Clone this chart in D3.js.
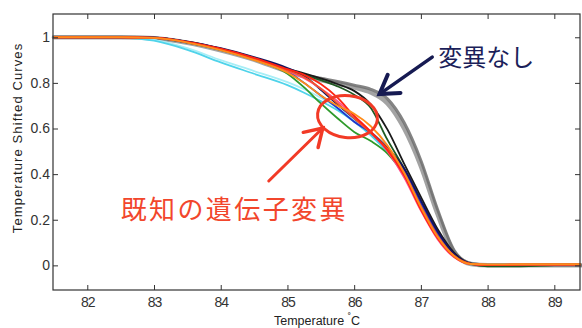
<!DOCTYPE html>
<html>
<head>
<meta charset="utf-8">
<script src="https://cdn.jsdelivr.net/npm/d3@7"></script>
<style>
  html, body { margin: 0; padding: 0; background: #fff; }
  svg { display: block; }
</style>
</head>
<body>
<svg id="chart" width="582" height="328"></svg>
<script>
// Melting temperatures (°C) at which every curve is sampled
const temps = [81.5, 82, 82.5, 83, 83.5, 84, 84.5, 85, 85.25, 85.5, 85.75, 86, 86.25, 86.5, 86.75, 87, 87.25, 87.5, 87.75, 88, 88.5, 89, 89.4];

// Wild-type (no variant) curves
const wildA = [1, 1, 1, 0.997, 0.978, 0.946, 0.905, 0.855, 0.835, 0.82, 0.806, 0.79, 0.772, 0.73, 0.625, 0.46, 0.245, 0.065, 0.008, 0.001, 0, 0, 0];
const wildB = [1, 1, 1, 0.996, 0.976, 0.943, 0.902, 0.85, 0.83, 0.812, 0.797, 0.78, 0.758, 0.71, 0.6, 0.435, 0.225, 0.055, 0.006, 0, 0, 0, 0];

// Known-variant curves
const cyanA  = [1, 1, 0.999, 0.985, 0.945, 0.89, 0.84, 0.79, 0.757, 0.72, 0.68, 0.63, 0.57, 0.495, 0.4, 0.265, 0.135, 0.045, 0.006, 0.002, 0.003, 0.003, 0.003];
const cyanB  = [1, 1, 0.999, 0.988, 0.952, 0.9, 0.852, 0.803, 0.772, 0.735, 0.69, 0.635, 0.572, 0.497, 0.402, 0.268, 0.137, 0.046, 0.006, 0.002, 0.003, 0.003, 0.003];
const green  = [1, 1, 1, 0.997, 0.977, 0.945, 0.902, 0.84, 0.78, 0.71, 0.645, 0.585, 0.545, 0.49, 0.395, 0.26, 0.13, 0.044, 0.006, 0, -0.002, 0.001, 0.002];
const dkGreen = [1, 1, 1, 0.997, 0.978, 0.947, 0.906, 0.857, 0.835, 0.812, 0.785, 0.748, 0.69, 0.55, 0.425, 0.285, 0.15, 0.05, 0.006, -0.004, -0.004, 0.001, 0.002];
const black  = [1, 1, 1, 0.998, 0.98, 0.95, 0.91, 0.862, 0.842, 0.82, 0.795, 0.765, 0.705, 0.595, 0.445, 0.3, 0.16, 0.055, 0.008, 0.001, 0.002, 0.003, 0.003];
const blue   = [1, 1, 1, 0.997, 0.978, 0.947, 0.905, 0.85, 0.8, 0.745, 0.69, 0.63, 0.58, 0.505, 0.415, 0.275, 0.14, 0.046, 0.007, 0.001, 0.002, 0.002, 0.002];
const navy   = [1, 1, 1, 0.998, 0.981, 0.952, 0.913, 0.865, 0.83, 0.77, 0.705, 0.645, 0.585, 0.515, 0.425, 0.285, 0.15, 0.05, 0.008, 0.001, 0.002, 0.002, 0.002];
const pink   = [1, 1, 1, 0.997, 0.978, 0.946, 0.904, 0.852, 0.82, 0.775, 0.72, 0.655, 0.585, 0.5, 0.385, 0.24, 0.115, 0.035, 0.005, 0.002, 0.003, 0.003, 0.003];
const tomato = [1, 1, 1, 0.997, 0.978, 0.947, 0.905, 0.855, 0.825, 0.775, 0.71, 0.645, 0.58, 0.51, 0.405, 0.26, 0.13, 0.042, 0.007, 0.002, 0.003, 0.003, 0.003];
const red    = [1, 1, 1, 0.998, 0.98, 0.95, 0.91, 0.86, 0.835, 0.795, 0.735, 0.655, 0.585, 0.505, 0.395, 0.245, 0.12, 0.038, 0.006, 0.002, 0.003, 0.003, 0.003];
const orange = [1, 1, 1, 0.997, 0.977, 0.944, 0.9, 0.845, 0.8, 0.745, 0.7, 0.665, 0.61, 0.525, 0.405, 0.255, 0.125, 0.04, 0.006, 0.004, 0.005, 0.005, 0.005];

// Axis ticks
const xTicks = [82, 83, 84, 85, 86, 87, 88, 89];
const yTicks = [0, 0.2, 0.4, 0.6, 0.8, 1];

// Annotation text
const labelWild = "変異なし";
const labelKnown = "既知の遺伝子変異";

const svg = d3.select("#chart");
const frame = { left: 53, right: 580, top: 14, bottom: 290 };

const x = d3.scaleLinear().domain([81.486, 89.385]).range([frame.left, frame.right]);
const y = d3.scaleLinear().domain([-0.108, 1.102]).range([frame.bottom, frame.top]);

const line = d3.line()
  .x(d => x(d[0]))
  .y(d => y(d[1]))
  .curve(d3.curveMonotoneX);

const pts = vals => temps.map((t, i) => [t, vals[i]]);

const plot = svg.append("g");

// grey band of the wild-type runs
[
  { v: wildB, c: "#8c8c8c", w: 4.5, o: 0.8 },
  { v: wildA, c: "#6e6e6e", w: 3, o: 0.85 }
].forEach(s => {
  plot.append("path").attr("d", line(pts(s.v)))
    .attr("fill", "none").attr("stroke", s.c)
    .attr("stroke-width", s.w).attr("stroke-opacity", s.o)
    .attr("stroke-linejoin", "round").attr("stroke-linecap", "round");
});

// variant runs
[
  { v: cyanB, c: "#a8eef6" },
  { v: cyanA, c: "#4fd3ea" },
  { v: green, c: "#2f9a2a" },
  { v: dkGreen, c: "#1f5a22" },
  { v: black, c: "#1a1a1a" },
  { v: blue, c: "#2233cc" },
  { v: navy, c: "#14145e" },
  { v: pink, c: "#ff4f88" },
  { v: tomato, c: "#f2552e" },
  { v: red, c: "#ff2412" },
  { v: orange, c: "#ff8c1a" }
].forEach(s => {
  plot.append("path").attr("d", line(pts(s.v)))
    .attr("fill", "none").attr("stroke", s.c)
    .attr("stroke-width", 1.8)
    .attr("stroke-linejoin", "round");
});

// axes with inward ticks on all four sides
const tickFont = "'Liberation Sans', Arial, sans-serif";
function styleAxis(g) {
  g.select(".domain").remove();
  g.selectAll("line").attr("stroke", "#333");
  g.selectAll("text").attr("fill", "#333").attr("font-family", tickFont).attr("font-size", 14);
}

svg.append("g").attr("transform", `translate(0,${frame.bottom})`)
  .call(d3.axisBottom(x).tickValues(xTicks).tickFormat(d3.format("d")).tickSize(-5).tickPadding(7))
  .call(styleAxis)
  .call(g => g.selectAll("text").attr("letter-spacing", -1));

svg.append("g").attr("transform", `translate(0,${frame.top})`)
  .call(d3.axisTop(x).tickValues(xTicks).tickFormat("").tickSize(-5))
  .call(styleAxis);

svg.append("g").attr("transform", `translate(${frame.left},0)`)
  .call(d3.axisLeft(y).tickValues(yTicks).tickFormat(d => d === 0 || d === 1 ? d3.format("d")(d) : d3.format(".1f")(d)).tickSize(-5).tickPadding(3))
  .call(styleAxis);

svg.append("g").attr("transform", `translate(${frame.right},0)`)
  .call(d3.axisRight(y).tickValues(yTicks).tickFormat("").tickSize(-5))
  .call(styleAxis);

svg.append("rect")
  .attr("x", frame.left).attr("y", frame.top)
  .attr("width", frame.right - frame.left).attr("height", frame.bottom - frame.top)
  .attr("fill", "none").attr("stroke", "#333").attr("stroke-width", 1.2);

// axis titles
const xTitle = svg.append("text")
  .attr("x", 317).attr("y", 324.5)
  .attr("text-anchor", "middle")
  .attr("font-family", tickFont).attr("font-size", 12.5).attr("fill", "#222");
xTitle.append("tspan").text("Temperature ");
xTitle.append("tspan").attr("dy", -4).attr("font-size", 10).text("˚");
xTitle.append("tspan").attr("dy", 4).text("C");

svg.append("text")
  .attr("transform", "translate(21.5,138) rotate(-90)")
  .attr("text-anchor", "middle")
  .attr("font-family", tickFont).attr("font-size", 13).attr("letter-spacing", 1.1).attr("fill", "#222")
  .text("Temperature Shifted Curves");

// annotations
const cjk = "'Noto Sans CJK JP', 'Noto Sans CJK SC', sans-serif";

function arrow(g, tail, tip, color, width, head) {
  const [x0, y0] = [x(tail[0]), y(tail[1])];
  const [x1, y1] = [x(tip[0]), y(tip[1])];
  const ang = Math.atan2(y0 - y1, x0 - x1);
  const spread = 32 * Math.PI / 180;
  g.append("line").attr("x1", x0).attr("y1", y0).attr("x2", x1).attr("y2", y1)
    .attr("stroke", color).attr("stroke-width", width).attr("stroke-linecap", "round");
  g.append("polyline")
    .attr("points", [
      [x1 + head * Math.cos(ang + spread), y1 + head * Math.sin(ang + spread)],
      [x1, y1],
      [x1 + head * Math.cos(ang - spread), y1 + head * Math.sin(ang - spread)]
    ].map(p => p.join(",")).join(" "))
    .attr("fill", "none").attr("stroke", color).attr("stroke-width", width + 0.5)
    .attr("stroke-linecap", "round").attr("stroke-linejoin", "miter");
}

const ann = svg.append("g");

// circle around the variant divergence
ann.append("ellipse")
  .attr("cx", x(85.9)).attr("cy", y(0.652))
  .attr("rx", x(86.35) - x(85.9)).attr("ry", y(0.652) - y(0.744))
  .attr("transform", `rotate(6,${x(85.9)},${y(0.652)})`)
  .attr("fill", "none").attr("stroke", "#f23a26").attr("stroke-width", 3);

arrow(ann, [84.72, 0.37], [85.53, 0.602], "#f23a26", 3, 20);
arrow(ann, [87.17, 0.913], [86.38, 0.751], "#161a52", 3.5, 21);

ann.append("text")
  .attr("x", x(87.26)).attr("y", y(0.874))
  .attr("font-family", cjk).attr("font-size", 24).attr("fill", "#1c1f5a")
  .text(labelWild);

ann.append("text")
  .attr("x", x(82.5)).attr("y", y(0.205))
  .attr("font-family", cjk).attr("font-size", 26).attr("letter-spacing", 2.4)
  .attr("fill", "#f2462c")
  .text(labelKnown);
</script>
</body>
</html>
